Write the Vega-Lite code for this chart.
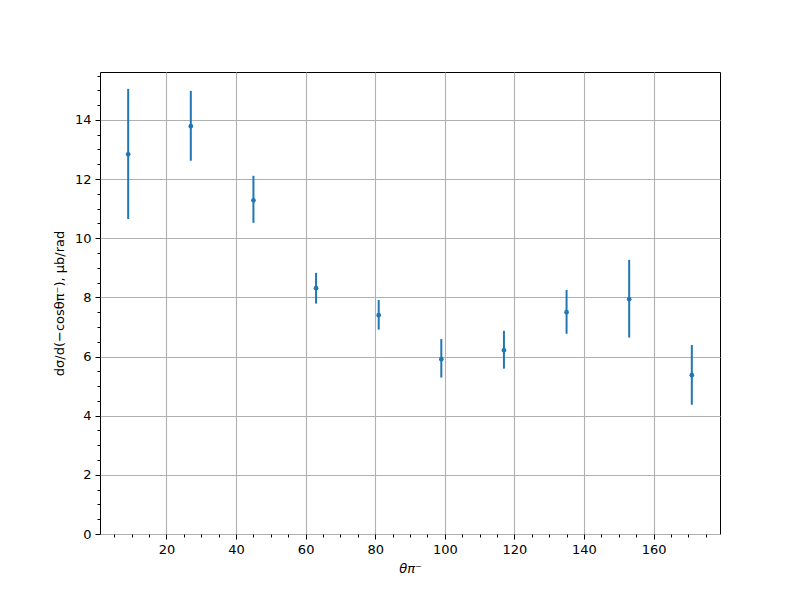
{
  "$schema": "https://vega.github.io/schema/vega-lite/v6.json",
  "width": 620,
  "height": 462,
  "autosize": "none",
  "padding": {"left": 100, "top": 72, "right": 80, "bottom": 66},
  "background": "white",
  "config": {
    "view": {"stroke": "black", "strokeWidth": 1},
    "axis": {
      "labelFont": "DejaVu Sans",
      "labelFontSize": 13,
      "labelColor": "black",
      "titleFont": "DejaVu Sans",
      "titleFontSize": 13,
      "titleFontWeight": "normal",
      "titleColor": "black",
      "domain": false,
      "tickColor": "black",
      "tickSize": 5,
      "tickWidth": 1,
      "gridColor": "#b0b0b0",
      "gridWidth": 1.1,
      "gridOpacity": 1,
      "labelPadding": 4
    }
  },
  "data": {
    "values": [
      {"theta": 9, "sigma": 12.84, "lo": 10.65, "hi": 15.05},
      {"theta": 27, "sigma": 13.79, "lo": 12.62, "hi": 14.98},
      {"theta": 45, "sigma": 11.28, "lo": 10.52, "hi": 12.11},
      {"theta": 63, "sigma": 8.31, "lo": 7.79, "hi": 8.83},
      {"theta": 81, "sigma": 7.40, "lo": 6.91, "hi": 7.91},
      {"theta": 99, "sigma": 5.91, "lo": 5.29, "hi": 6.59},
      {"theta": 117, "sigma": 6.21, "lo": 5.59, "hi": 6.87},
      {"theta": 135, "sigma": 7.50, "lo": 6.77, "hi": 8.25},
      {"theta": 153, "sigma": 7.94, "lo": 6.64, "hi": 9.27},
      {"theta": 171, "sigma": 5.37, "lo": 4.37, "hi": 6.39}
    ]
  },
  "layer": [
    {
      "mark": {"type": "rule", "color": "#1f77b4", "strokeWidth": 2},
      "encoding": {
        "x": {
          "field": "theta", "type": "quantitative",
          "scale": {"domain": [0.9, 179.1], "nice": false, "zero": false},
          "axis": {"orient": "bottom", "values": [20, 40, 60, 80, 100, 120, 140, 160], "grid": true, "title": "θπ⁻", "titlePadding": 6, "titleFontStyle": "italic"}
        },
        "y": {
          "field": "lo", "type": "quantitative",
          "scale": {"domain": [0, 15.62], "nice": false, "zero": false},
          "axis": {"orient": "left", "values": [0, 2, 4, 6, 8, 10, 12, 14], "grid": true, "title": "dσ/d(−cosθπ⁻), μb/rad", "titlePadding": 8}
        },
        "y2": {"field": "hi"}
      }
    },
    {
      "mark": {"type": "point", "filled": true, "color": "#1f77b4", "size": 22, "opacity": 1},
      "encoding": {
        "x": {"field": "theta", "type": "quantitative", "axis": null},
        "y": {"field": "sigma", "type": "quantitative", "axis": null}
      }
    },
    {
      "mark": {"type": "point", "opacity": 0},
      "encoding": {
        "x": {
          "field": "theta", "type": "quantitative",
          "axis": {"orient": "bottom", "values": [5, 10, 15, 25, 30, 35, 45, 50, 55, 65, 70, 75, 85, 90, 95, 105, 110, 115, 125, 130, 135, 145, 150, 155, 165, 170, 175], "labels": false, "grid": false, "tickSize": 3, "title": null}
        },
        "y": {
          "field": "sigma", "type": "quantitative",
          "axis": {"orient": "left", "values": [0.5, 1, 1.5, 2.5, 3, 3.5, 4.5, 5, 5.5, 6.5, 7, 7.5, 8.5, 9, 9.5, 10.5, 11, 11.5, 12.5, 13, 13.5, 14.5, 15, 15.5], "labels": false, "grid": false, "tickSize": 3, "title": null}
        }
      }
    }
  ],
  "resolve": {"axis": {"x": "independent", "y": "independent"}}
}
